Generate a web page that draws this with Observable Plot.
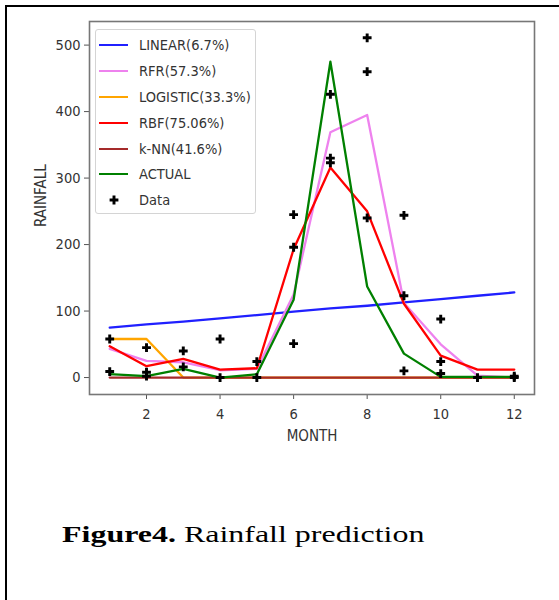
<!DOCTYPE html>
<html>
<head>
<meta charset="utf-8">
<script src="https://cdn.jsdelivr.net/npm/d3@7"></script>
<script src="https://cdn.jsdelivr.net/npm/@observablehq/plot@0.6"></script>
<style>
  html, body { margin: 0; padding: 0; background: #fff; }
  #page { position: relative; width: 559px; height: 600px; overflow: hidden; }
  #border { position: absolute; left: 5px; top: 5px; width: 560px; height: 600px;
            border-left: 2px solid #000; border-top: 2px solid #000; }
  #chart { position: absolute; left: 0; top: 0; }
  #legend { position: absolute; left: 95px; top: 29px; width: 161px; height: 185px;
            border: 1px solid #d4d4d4; border-radius: 3px; background: rgba(255,255,255,0.85);
            box-sizing: border-box; padding-top: 2px;
            font-family: "DejaVu Sans Condensed", "DejaVu Sans", sans-serif; font-size: 14.5px; color: #333; }
  .row { height: 25.9px; display: flex; align-items: center; }
  .swatch { width: 29px; margin-left: 3px; margin-right: 11px; height: 0; border-top: 2.2px solid; }
  .mk { width: 29px; margin-left: 3px; margin-right: 11px; display: flex; justify-content: center; }
  #caption { position: absolute; left: 62px; top: 523px; white-space: nowrap;
             font-family: "Liberation Serif", "Times New Roman", serif; font-size: 23.5px; line-height: 1;
             color: #000; transform: scaleX(1.36); transform-origin: 0 0; }
</style>
</head>
<body>
<div id="page">
  <div id="border"></div>
  <div id="chart"></div>
  <div id="legend"></div>
  <div id="caption"><b>Figure4.</b> Rainfall prediction</div>
</div>
<script>
// ---- data ----
const months = [1, 2, 3, 4, 5, 6, 7, 8, 9, 10, 11, 12];
const seriesNames = ["LINEAR(6.7%)", "RFR(57.3%)", "LOGISTIC(33.3%)", "RBF(75.06%)", "k-NN(41.6%)", "ACTUAL"];
const seriesColors = ["#2020ff", "#ee82ee", "#ffa500", "#ff0000", "#a52a2a", "#008000"];
const linear   = [75, 80, 84, 89, 94, 99, 104, 108, 113, 118, 123, 128];
const rfr      = [43, 25, 23, 11, 13, 125, 369, 395, 112, 50, 3, 0];
const logistic = [58, 58, 0, 0, 0, 0, 0, 0, 0, 0, 0, 0];
const rbf      = [47, 17, 28, 12, 14, 193, 316, 250, 111, 33, 12, 12];
const knn      = [0, 0, 0, 0, 0, 0, 0, 0, 0, 0, 0, 0];
const actual   = [5, 2, 13, 0, 5, 117, 475, 137, 36, 1, 1, 1];
const dataMonth = [1, 1, 2, 2, 2, 3, 3, 4, 4, 5, 5, 6, 6, 6, 7, 7, 7, 8, 8, 8, 9, 9, 9, 10, 10, 10, 11, 12, 12];
const dataValue = [58, 9, 45, 8, 2, 40, 16, 58, 0, 24, 0, 245, 196, 51, 426, 330, 323, 511, 460, 240, 244, 123, 10, 88, 24, 6, 0, 0, 2];
const xTicks = [2, 4, 6, 8, 10, 12];
const yTicks = [0, 100, 200, 300, 400, 500];
const xLabel = "MONTH";
const yLabel = "RAINFALL";
const dataLabel = "Data";

// ---- build tables ----
const seriesValues = [linear, rfr, logistic, rbf, knn, actual];
const lineRows = seriesNames.map((name, i) => months.map((m, j) => ({series: name, month: m, value: seriesValues[i][j]})));
const points = dataMonth.map((m, i) => ({month: m, value: dataValue[i]}));

const font = '"DejaVu Sans Condensed", "DejaVu Sans", sans-serif';
const markerR = 3.7;

const chart = Plot.plot({
  width: 559,
  height: 460,
  marginLeft: 89,
  marginRight: 25,
  marginTop: 21,
  marginBottom: 66,
  style: {fontFamily: font, fontSize: "14.5px", color: "#333", background: "transparent"},
  x: {domain: [0.45, 12.55]},
  y: {domain: [-25.5, 535.5]},
  color: {domain: seriesNames, range: seriesColors},
  marks: [
    Plot.axisX({ticks: xTicks, tickSize: 5, tickPadding: 9, label: null, tickFormat: d => String(d), stroke: "#555"}),
    Plot.axisY({ticks: yTicks, tickSize: 5, tickPadding: 4, label: null, tickFormat: d => String(d), stroke: "#555"}),
    Plot.text([xLabel], {frameAnchor: "bottom", dy: 46, fontSize: 15, fill: "#333"}),
    Plot.text([yLabel], {frameAnchor: "left", rotate: -90, dx: -48, dy: 19, fontSize: 15, fill: "#333"}),
    ...lineRows.map(rows => Plot.line(rows, {x: "month", y: "value", stroke: "series", strokeWidth: 2.3})),
    Plot.dot(points, {x: "month", y: "value", symbol: "cross", fill: "#000", r: markerR}),
    Plot.frame({stroke: "#777", strokeWidth: 1.6})
  ]
});
document.getElementById("chart").appendChild(chart);

// ---- legend ----
const legend = document.getElementById("legend");
seriesNames.forEach((name, i) => {
  const row = document.createElement("div");
  row.className = "row";
  const sw = document.createElement("div");
  sw.className = "swatch";
  sw.style.borderTopColor = seriesColors[i];
  const tx = document.createElement("span");
  tx.textContent = name;
  row.appendChild(sw);
  row.appendChild(tx);
  legend.appendChild(row);
});
{
  const row = document.createElement("div");
  row.className = "row";
  const mk = document.createElement("div");
  mk.className = "mk";
  const svg = d3.create("svg").attr("width", 12).attr("height", 12);
  svg.append("path").attr("transform", "translate(6,6)")
    .attr("d", d3.symbol(d3.symbolCross, markerR * markerR * Math.PI)()).attr("fill", "#000");
  mk.appendChild(svg.node());
  const tx = document.createElement("span");
  tx.textContent = dataLabel;
  row.appendChild(mk);
  row.appendChild(tx);
  legend.appendChild(row);
}
</script>
</body>
</html>
